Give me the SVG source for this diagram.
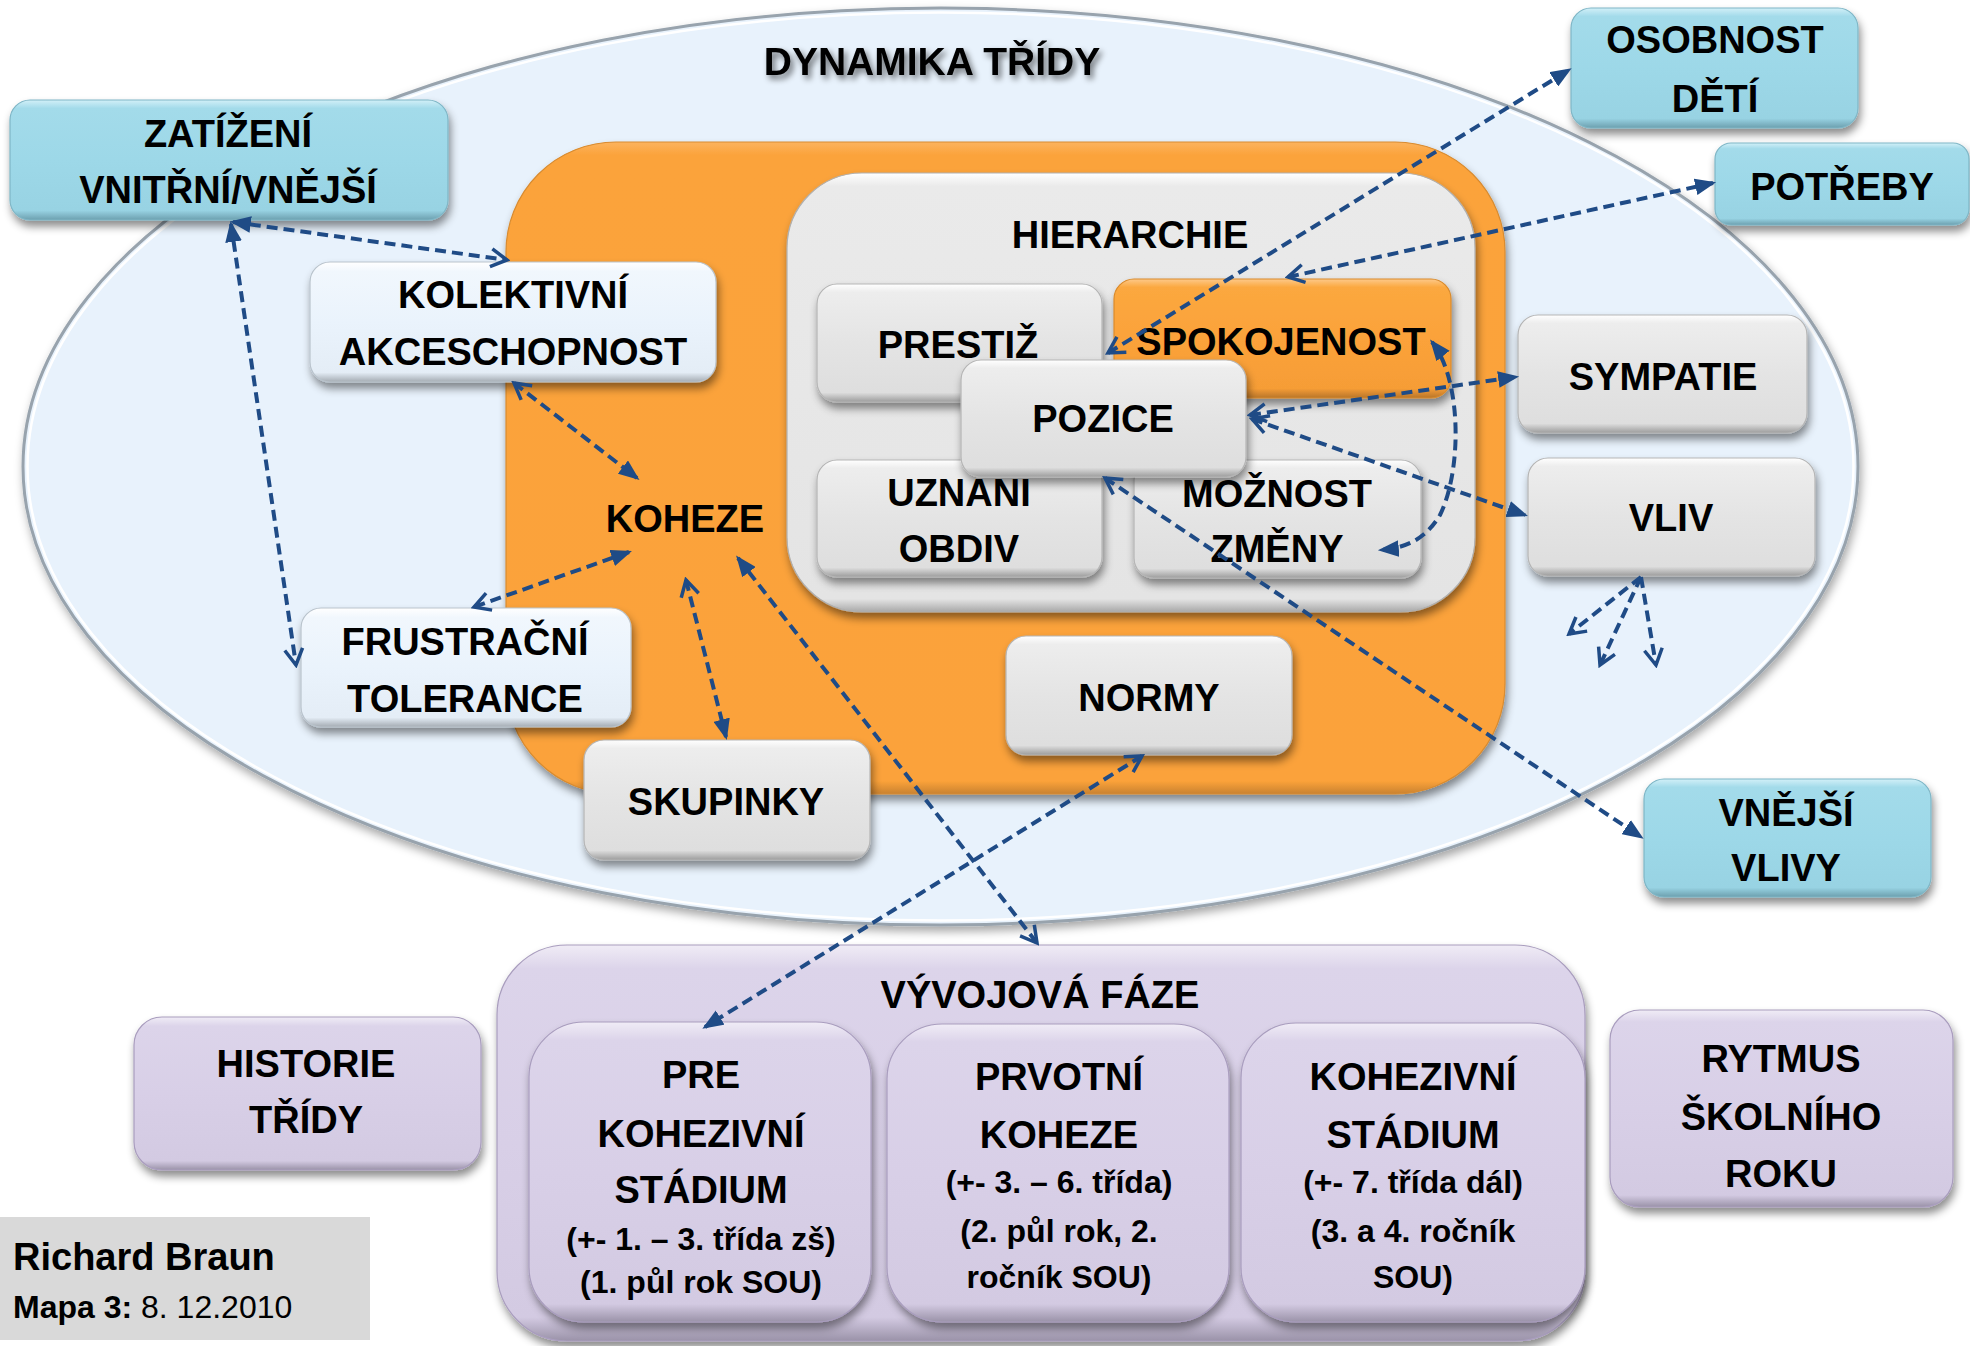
<svg xmlns="http://www.w3.org/2000/svg" width="1970" height="1346" viewBox="0 0 1970 1346">
<style>
  text { font-family: "Liberation Sans", Arial, sans-serif; font-weight: 700; fill: #000; text-anchor: middle; }
  .t { font-size: 38px; }
  .s { font-size: 32px; }
  .gray { fill: url(#gGray); stroke: #B5B5B5; stroke-width: 1.2; filter: url(#sh); }
  .cyan { fill: url(#gCyan); stroke: #7FB6C6; stroke-width: 1.2; filter: url(#sh); }
  .light { fill: url(#gLight); stroke: #B9C3CC; stroke-width: 1.2; filter: url(#sh); }
  .orange { fill: url(#gOrange); stroke: #D98A2C; stroke-width: 1.2; filter: url(#sh); }
  .purple { fill: url(#gPurple); stroke: #A99DBE; stroke-width: 1.2; filter: url(#sh); }
  .conn path, .conn line { fill: none; stroke: #1F4B86; stroke-width: 4; stroke-dasharray: 11 6; }
</style>
<defs>
  <linearGradient id="gGray" x1="0" y1="0" x2="0" y2="1">
    <stop offset="0" stop-color="#FFFFFF"/>
    <stop offset="0.07" stop-color="#EDEDED"/>
    <stop offset="0.5" stop-color="#E4E4E4"/>
    <stop offset="0.92" stop-color="#DEDEDE"/>
    <stop offset="1" stop-color="#9C9C9C"/>
  </linearGradient>
  <linearGradient id="gCyan" x1="0" y1="0" x2="0" y2="1">
    <stop offset="0" stop-color="#D2F0F8"/>
    <stop offset="0.07" stop-color="#A3DBEA"/>
    <stop offset="0.5" stop-color="#9DD8E8"/>
    <stop offset="0.92" stop-color="#98D3E3"/>
    <stop offset="1" stop-color="#6C9FAE"/>
  </linearGradient>
  <linearGradient id="gLight" x1="0" y1="0" x2="0" y2="1">
    <stop offset="0" stop-color="#FFFFFF"/>
    <stop offset="0.08" stop-color="#F1F7FD"/>
    <stop offset="0.5" stop-color="#EAF3FC"/>
    <stop offset="0.92" stop-color="#E4EDF6"/>
    <stop offset="1" stop-color="#A4ABB2"/>
  </linearGradient>
  <linearGradient id="gOrange" x1="0" y1="0" x2="0" y2="1">
    <stop offset="0" stop-color="#FDC98A"/>
    <stop offset="0.07" stop-color="#FBA83F"/>
    <stop offset="0.5" stop-color="#FBA23A"/>
    <stop offset="0.92" stop-color="#F69D36"/>
    <stop offset="1" stop-color="#B8752A"/>
  </linearGradient>
  <linearGradient id="gPurple" x1="0" y1="0" x2="0" y2="1">
    <stop offset="0" stop-color="#F0ECF6"/>
    <stop offset="0.06" stop-color="#DCD4EA"/>
    <stop offset="0.5" stop-color="#D8CFE7"/>
    <stop offset="0.94" stop-color="#D3CAE2"/>
    <stop offset="1" stop-color="#9A92A8"/>
  </linearGradient>
  <linearGradient id="gOrangeBig" x1="0" y1="0" x2="0" y2="1">
    <stop offset="0" stop-color="#FCB35E"/>
    <stop offset="0.02" stop-color="#FBA33B"/>
    <stop offset="0.98" stop-color="#FBA23A"/>
    <stop offset="1" stop-color="#C98230"/>
  </linearGradient>
  <linearGradient id="gHier" x1="0" y1="0" x2="0" y2="1">
    <stop offset="0" stop-color="#FFFFFF"/>
    <stop offset="0.03" stop-color="#EAEAEA"/>
    <stop offset="0.97" stop-color="#E4E4E4"/>
    <stop offset="1" stop-color="#A8A8A8"/>
  </linearGradient>
  <filter id="sh" x="-10%" y="-10%" width="125%" height="130%">
    <feDropShadow dx="2" dy="6" stdDeviation="4" flood-color="#000" flood-opacity="0.45"/>
  </filter>
  <filter id="shSoft" x="-5%" y="-5%" width="115%" height="120%">
    <feDropShadow dx="2" dy="5" stdDeviation="5" flood-color="#000" flood-opacity="0.35"/>
  </filter>
  <filter id="tsh" x="-10%" y="-30%" width="120%" height="170%">
    <feGaussianBlur in="SourceAlpha" stdDeviation="3"/>
    <feOffset dx="3" dy="4" result="b"/>
    <feComponentTransfer><feFuncA type="linear" slope="0.55"/></feComponentTransfer>
    <feMerge><feMergeNode/><feMergeNode in="SourceGraphic"/></feMerge>
  </filter>
  <marker id="tri" viewBox="0 0 20 16" refX="17" refY="8" markerWidth="21" markerHeight="17" markerUnits="userSpaceOnUse" orient="auto-start-reverse">
    <path d="M0,0 L20,8 L0,16 z" fill="#1F4B86"/>
  </marker>
  <marker id="chev" viewBox="0 0 22 22" refX="19" refY="11" markerWidth="22" markerHeight="22" markerUnits="userSpaceOnUse" orient="auto-start-reverse">
    <path d="M3,2 L19,11 L3,20" fill="none" stroke="#1F4B86" stroke-width="3.5"/>
  </marker>
</defs>

<rect width="1970" height="1346" fill="#FFFFFF"/>

<g id="dynamika">
  <ellipse cx="940.5" cy="466.5" rx="917.5" ry="458.5" fill="#E8F2FC" stroke="#98A3AD" stroke-width="3" filter="url(#shSoft)"/>
  <ellipse cx="940.5" cy="466.5" rx="913" ry="454" fill="none" stroke="#FFFFFF" stroke-width="2.5"/>
  <text class="t" x="932" y="75" filter="url(#tsh)" style="font-size:39px">DYNAMIKA TŘÍDY</text>
</g>

<g id="koheze-container">
  <rect x="506" y="142" width="999" height="652" rx="110" fill="url(#gOrangeBig)" stroke="#D88B30" stroke-width="1.2" filter="url(#sh)"/>
  <text class="t" x="685" y="532">KOHEZE</text>
</g>

<g id="hierarchie">
  <rect x="787" y="173" width="688" height="439" rx="75" fill="url(#gHier)" stroke="#B0B0B0" stroke-width="1.2" filter="url(#sh)"/>
  <text class="t" x="1130" y="248">HIERARCHIE</text>
</g>

<g id="prestiz"><rect class="gray" x="817" y="284" width="285" height="118" rx="20"/><text class="t" x="958" y="358">PRESTIŽ</text></g>
<g id="spokojenost"><rect class="orange" x="1114" y="279" width="337" height="119" rx="20"/><text class="t" x="1281" y="355">SPOKOJENOST</text></g>
<g id="uznani"><rect class="gray" x="817" y="460" width="285" height="117" rx="20"/><text class="t" x="959" y="506">UZNÁNÍ</text><text class="t" x="959" y="562">OBDIV</text></g>
<g id="moznost"><rect class="gray" x="1134" y="460" width="287" height="118" rx="20"/><text class="t" x="1277" y="507">MOŽNOST</text><text class="t" x="1277" y="562">ZMĚNY</text></g>
<g id="pozice"><rect class="gray" x="961" y="360" width="285" height="117" rx="20"/><text class="t" x="1103" y="432">POZICE</text></g>
<g id="normy"><rect class="gray" x="1006" y="636" width="286" height="119" rx="20"/><text class="t" x="1149" y="711">NORMY</text></g>
<g id="skupinky"><rect class="gray" x="584" y="740" width="286" height="120" rx="20"/><text class="t" x="726" y="815">SKUPINKY</text></g>
<g id="kolektivni"><rect class="light" x="310" y="262" width="406" height="120" rx="20"/><text class="t" x="513" y="308">KOLEKTIVNÍ</text><text class="t" x="513" y="365">AKCESCHOPNOST</text></g>
<g id="frustracni"><rect class="light" x="301" y="608" width="330" height="119" rx="20"/><text class="t" x="465" y="655">FRUSTRAČNÍ</text><text class="t" x="465" y="712">TOLERANCE</text></g>
<g id="sympatie"><rect class="gray" x="1518" y="315" width="289" height="118" rx="20"/><text class="t" x="1663" y="390">SYMPATIE</text></g>
<g id="vliv"><rect class="gray" x="1528" y="458" width="287" height="118" rx="20"/><text class="t" x="1671" y="531">VLIV</text></g>

<g id="zatizeni"><rect class="cyan" x="10" y="100" width="438" height="120" rx="20"/><text class="t" x="228" y="147">ZATÍŽENÍ</text><text class="t" x="228" y="203">VNITŘNÍ/VNĚJŠÍ</text></g>
<g id="osobnost"><rect class="cyan" x="1571" y="8" width="287" height="120" rx="20"/><text class="t" x="1715" y="53">OSOBNOST</text><text class="t" x="1715" y="112">DĚTÍ</text></g>
<g id="potreby"><rect class="cyan" x="1715" y="143" width="254" height="82" rx="16"/><text class="t" x="1842" y="200">POTŘEBY</text></g>
<g id="vnejsi"><rect class="cyan" x="1644" y="779" width="287" height="118" rx="20"/><text class="t" x="1786" y="826">VNĚJŠÍ</text><text class="t" x="1786" y="881">VLIVY</text></g>

<g id="vyvojova">
  <rect class="purple" x="497" y="945" width="1088" height="396" rx="70"/>
  <text class="t" x="1040" y="1008">VÝVOJOVÁ FÁZE</text>
</g>
<g id="pre">
  <rect class="purple" x="529" y="1022" width="342" height="300" rx="55"/>
  <text class="t" x="701" y="1088">PRE</text>
  <text class="t" x="701" y="1147">KOHEZIVNÍ</text>
  <text class="t" x="701" y="1203">STÁDIUM</text>
  <text class="s" x="701" y="1250">(+- 1. – 3. třída zš)</text>
  <text class="s" x="701" y="1293">(1. půl rok SOU)</text>
</g>
<g id="prvotni">
  <rect class="purple" x="887" y="1024" width="342" height="298" rx="55"/>
  <text class="t" x="1059" y="1090">PRVOTNÍ</text>
  <text class="t" x="1059" y="1148">KOHEZE</text>
  <text class="s" x="1059" y="1193">(+- 3. – 6. třída)</text>
  <text class="s" x="1059" y="1242">(2. půl rok, 2.</text>
  <text class="s" x="1059" y="1288">ročník SOU)</text>
</g>
<g id="kohezivni">
  <rect class="purple" x="1241" y="1023" width="344" height="299" rx="55"/>
  <text class="t" x="1413" y="1090">KOHEZIVNÍ</text>
  <text class="t" x="1413" y="1148">STÁDIUM</text>
  <text class="s" x="1413" y="1193">(+- 7. třída dál)</text>
  <text class="s" x="1413" y="1242">(3. a 4. ročník</text>
  <text class="s" x="1413" y="1288">SOU)</text>
</g>
<g id="historie"><rect class="purple" x="134" y="1017" width="347" height="153" rx="28"/><text class="t" x="306" y="1077">HISTORIE</text><text class="t" x="306" y="1133">TŘÍDY</text></g>
<g id="rytmus"><rect class="purple" x="1610" y="1010" width="343" height="197" rx="30"/><text class="t" x="1781" y="1072">RYTMUS</text><text class="t" x="1781" y="1130">ŠKOLNÍHO</text><text class="t" x="1781" y="1187">ROKU</text></g>

<g id="autor">
  <rect x="0" y="1217" width="370" height="123" fill="#D9D9D9"/>
  <text x="13" y="1270" style="text-anchor:start;font-size:38px">Richard Braun</text>
  <text x="13" y="1318" style="text-anchor:start;font-size:32px">Mapa 3:<tspan style="font-weight:400"> 8. 12.2010</tspan></text>
</g>

<g class="conn" id="connectors">
  <line x1="233" y1="222" x2="507" y2="260" marker-start="url(#tri)" marker-end="url(#chev)"/>
  <line x1="231" y1="224" x2="296" y2="665" marker-start="url(#tri)" marker-end="url(#chev)"/>
  <line x1="514" y1="383" x2="637" y2="478" marker-start="url(#chev)" marker-end="url(#tri)"/>
  <line x1="629" y1="552" x2="474" y2="607" marker-start="url(#tri)" marker-end="url(#chev)"/>
  <line x1="686" y1="580" x2="726" y2="737" marker-start="url(#chev)" marker-end="url(#tri)"/>
  <line x1="738" y1="558" x2="1037" y2="943" marker-start="url(#tri)" marker-end="url(#chev)"/>
  <line x1="1142" y1="756" x2="705" y2="1027" marker-start="url(#chev)" marker-end="url(#tri)"/>
  <line x1="1105" y1="478" x2="1641" y2="837" marker-start="url(#chev)" marker-end="url(#tri)"/>
  <line x1="1252" y1="419" x2="1525" y2="515" marker-start="url(#chev)" marker-end="url(#tri)"/>
  <line x1="1250" y1="415" x2="1516" y2="377" marker-start="url(#chev)" marker-end="url(#tri)"/>
  <path d="M1432,342 C1462,380 1462,470 1440,515 C1425,540 1405,548 1381,550" marker-start="url(#tri)" marker-end="url(#tri)"/>
  <line x1="1108" y1="353" x2="1569" y2="70" marker-start="url(#chev)" marker-end="url(#tri)"/>
  <line x1="1288" y1="277" x2="1713" y2="183" marker-start="url(#chev)" marker-end="url(#tri)"/>
  <line x1="1641" y1="577" x2="1569" y2="634" marker-end="url(#chev)"/>
  <line x1="1641" y1="577" x2="1600" y2="665" marker-end="url(#chev)"/>
  <line x1="1641" y1="577" x2="1656" y2="665" marker-end="url(#chev)"/>
</g>
</svg>
